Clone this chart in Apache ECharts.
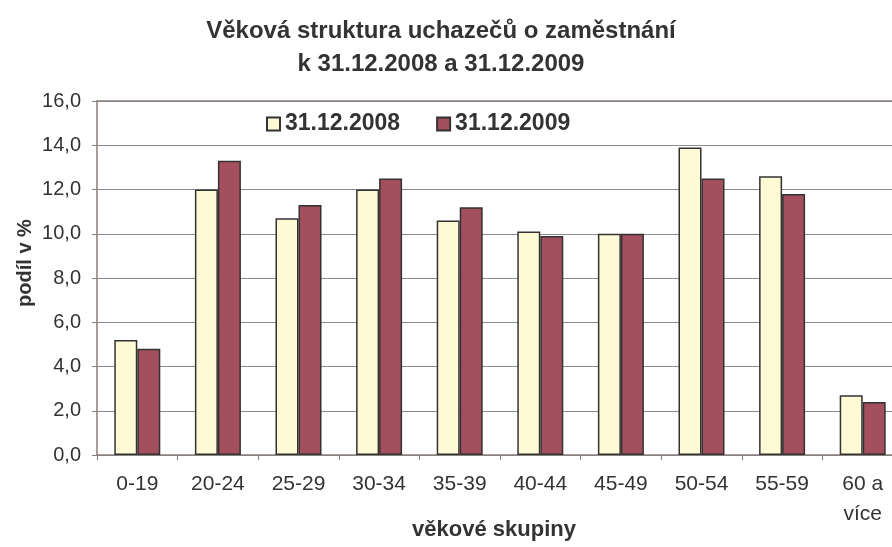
<!DOCTYPE html>
<html>
<head>
<meta charset="utf-8">
<title>Věková struktura uchazečů o zaměstnání</title>
<script src="https://cdn.jsdelivr.net/npm/echarts@6/dist/echarts.min.js"></script>
<style>
  html, body { margin: 0; padding: 0; background: #fff; }
  #chart { width: 892px; height: 547px; }
</style>
</head>
<body>
<div id="chart"></div>
<script>
// věkové skupiny
const categories = ['0-19', '20-24', '25-29', '30-34', '35-39', '40-44', '45-49', '50-54', '55-59', '60 a\nvíce'];
// podíl v % podle data
const values2008 = [5.2, 12.0, 10.7, 12.0, 10.6, 10.1, 10.0, 13.9, 12.6, 2.7];
const values2009 = [4.8, 13.3, 11.3, 12.5, 11.2, 9.9, 10.0, 12.5, 11.8, 2.4];
const seriesNames = ['31.12.2008', '31.12.2009'];
const yTicks = [0, 2, 4, 6, 8, 10, 12, 14, 16];

const font = '"Liberation Sans", Arial, sans-serif';
const textColor = '#333333';
const axisColor = '#8a7e7b';

let myChart = echarts.init(document.getElementById('chart'));

myChart.setOption({
  backgroundColor: '#ffffff',
  animation: false,
  title: {
    text: 'Věková struktura uchazečů o zaměstnání\nk 31.12.2008 a 31.12.2009',
    left: 441,
    top: 15,
    textAlign: 'center',
    padding: 0,
    textStyle: {
      fontFamily: font,
      fontSize: 24,
      fontWeight: 'bold',
      color: textColor,
      lineHeight: 33
    }
  },
  legend: {
    data: seriesNames,
    left: 266,
    top: 112,
    padding: 0,
    itemWidth: 13,
    itemHeight: 13,
    itemGap: 36,
    icon: 'rect',
    textStyle: {
      fontFamily: font,
      fontSize: 23,
      fontWeight: 'bold',
      color: textColor,
      lineHeight: 24
    }
  },
  grid: {
    left: 97,
    top: 101,
    width: 806,
    height: 354,
    containLabel: false,
    outerBoundsMode: 'none'
  },
  xAxis: [{
    type: 'category',
    data: categories,
    name: 'věkové skupiny',
    nameLocation: 'middle',
    nameGap: 64,
    nameMoveOverlap: false,
    nameTextStyle: {
      fontFamily: font,
      fontSize: 22,
      fontWeight: 'bold',
      color: textColor,
      padding: [0, 12, 0, 0]
    },
    axisLine: { lineStyle: { color: axisColor, width: 1.5 } },
    axisTick: { show: true, length: 5, lineStyle: { color: axisColor } },
    axisLabel: {
      interval: 0,
      margin: 14,
      fontFamily: font,
      fontSize: 21,
      color: textColor,
      lineHeight: 30
    }
  }, {
    // horní okraj plochy grafu
    type: 'category',
    data: categories,
    position: 'top',
    axisLine: { lineStyle: { color: axisColor, width: 1.5 } },
    axisTick: { show: false },
    axisLabel: { show: false }
  }],
  yAxis: {
    type: 'value',
    min: yTicks[0],
    max: yTicks[yTicks.length - 1],
    interval: 2,
    name: 'podíl v %',
    nameLocation: 'middle',
    nameGap: 62,
    nameMoveOverlap: false,
    nameTextStyle: {
      fontFamily: font,
      fontSize: 20,
      fontWeight: 'bold',
      color: textColor,
      padding: [0, 0, 0, 30]
    },
    axisLine: { show: true, lineStyle: { color: axisColor, width: 1.5 } },
    axisTick: { show: true, length: 5, lineStyle: { color: axisColor } },
    axisLabel: {
      margin: 16,
      fontFamily: font,
      fontSize: 20,
      color: textColor,
      formatter: function (v) { return v.toFixed(1).replace('.', ','); }
    },
    splitLine: { show: true, lineStyle: { color: '#8c8c8c', width: 1 } }
  },
  series: [{
    name: seriesNames[0],
    type: 'bar',
    data: values2008,
    barWidth: 23,
    barGap: '0%',
    itemStyle: { color: '#fffad6', borderColor: '#333333', borderWidth: 1.5 }
  }, {
    name: seriesNames[1],
    type: 'bar',
    data: values2009,
    barWidth: 23,
    barGap: '0%',
    itemStyle: { color: '#a34f5e', borderColor: '#333333', borderWidth: 1.5 }
  }]
});
</script>
</body>
</html>
